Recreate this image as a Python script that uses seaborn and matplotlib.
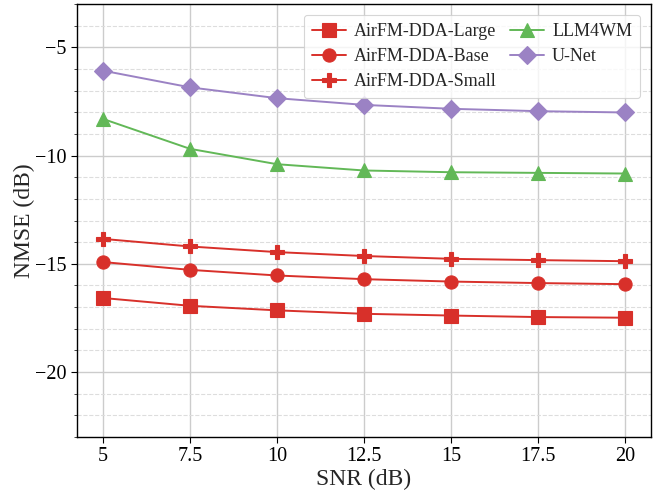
import matplotlib
matplotlib.use("Agg")
import matplotlib.pyplot as plt
from matplotlib.ticker import MultipleLocator
import numpy as np
import pandas as pd
import seaborn as sns

snr = [5, 7.5, 10, 12.5, 15, 17.5, 20]
snr_labels = ["5", "7.5", "10", "12.5", "15", "17.5", "20"]
nmse_large = [-16.58, -16.94, -17.15, -17.31, -17.39, -17.46, -17.49]
nmse_base = [-14.92, -15.28, -15.54, -15.71, -15.82, -15.89, -15.94]
nmse_small = [-13.85, -14.20, -14.46, -14.64, -14.77, -14.83, -14.88]
nmse_llm4wm = [-8.31, -9.69, -10.40, -10.69, -10.77, -10.80, -10.83]
nmse_unet = [-6.08, -6.85, -7.35, -7.66, -7.84, -7.95, -8.01]

methods = ["AirFM-DDA-Large", "AirFM-DDA-Base", "AirFM-DDA-Small", "LLM4WM", "U-Net"]
series = [nmse_large, nmse_base, nmse_small, nmse_llm4wm, nmse_unet]

df = pd.DataFrame({
    "SNR": np.tile(snr, len(methods)),
    "NMSE": np.concatenate(series),
    "Method": np.repeat(methods, len(snr)),
})

red = "#d8302a"
palette = {
    "AirFM-DDA-Large": red,
    "AirFM-DDA-Base": red,
    "AirFM-DDA-Small": red,
    "LLM4WM": "#62b857",
    "U-Net": "#9b82c4",
}
markers = {
    "AirFM-DDA-Large": "s",
    "AirFM-DDA-Base": "o",
    "AirFM-DDA-Small": "P",
    "LLM4WM": "^",
    "U-Net": "D",
}

sns.set_style("ticks")
plt.rcParams["font.family"] = ["Liberation Serif", "DejaVu Serif"]

fig = plt.figure(figsize=(6.6, 4.91), dpi=100)
ax = fig.add_axes([77 / 660, 1 - 437 / 491, (651 - 77) / 660, (437 - 4) / 491])

sns.lineplot(
    data=df, x="SNR", y="NMSE", hue="Method", style="Method",
    hue_order=methods, style_order=methods,
    palette=palette, markers=markers, dashes=False,
    markersize=9.5, markeredgewidth=0.8, linewidth=1.4, ax=ax,
)
# solid markers: edge in the same colour as the fill
for line in ax.get_lines():
    line.set_markeredgecolor(line.get_color())

ax.set_ylim(-23, -3)
ax.set_xticks(snr)
ax.set_xticklabels(snr_labels)
ax.yaxis.set_major_locator(MultipleLocator(5))
ax.yaxis.set_minor_locator(MultipleLocator(1))

ax.grid(which="major", color="#cccccc", linewidth=1.0, linestyle="-")
ax.grid(which="minor", axis="y", color="#dddddd", linewidth=0.8, linestyle="--")
ax.set_axisbelow(True)

ax.tick_params(axis="both", which="major", labelsize=14.5, direction="out", length=4, width=0.8, colors="black")
ax.tick_params(axis="y", which="minor", direction="out", length=2.5, width=0.6)
for s in ax.spines.values():
    s.set_visible(True)
    s.set_color("black")
    s.set_linewidth(1.0)

ax.set_xlabel("SNR (dB)", fontsize=17, labelpad=2)
ax.set_ylabel("NMSE (dB)", fontsize=17, labelpad=0)

leg = ax.legend(
    loc="upper right", ncol=2, fontsize=13, frameon=True, fancybox=True,
    handlelength=1.9, handletextpad=0.45, columnspacing=0.7,
    labelspacing=0.45, borderaxespad=0.6, borderpad=0.45,
)
for h in leg.get_lines():
    h.set_markeredgecolor(h.get_color())
leg.get_frame().set_edgecolor("#cccccc")
leg.get_frame().set_linewidth(0.8)

fig.savefig("out.png", dpi=100)
